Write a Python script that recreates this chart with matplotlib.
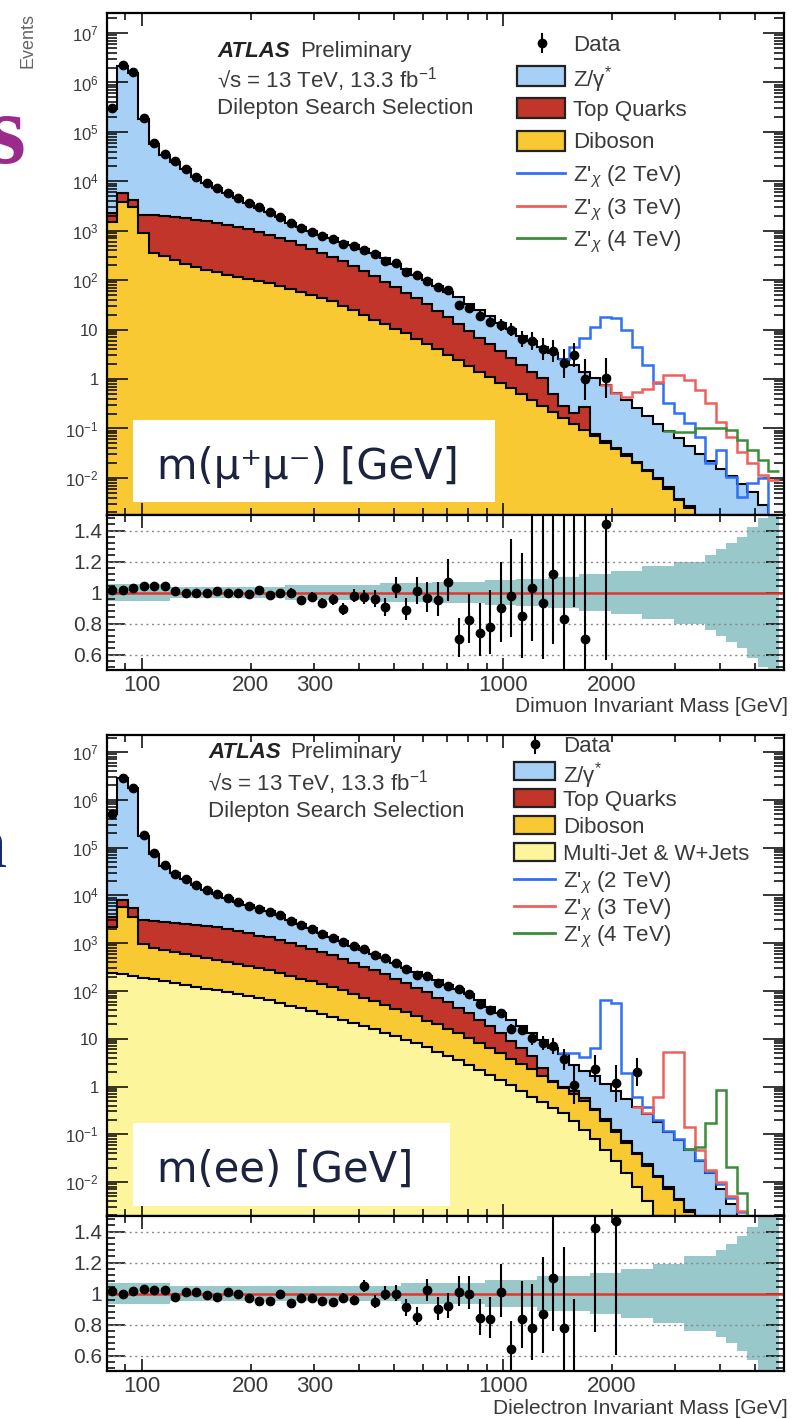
import numpy as np
import matplotlib
matplotlib.use("Agg")
import matplotlib.pyplot as plt
from matplotlib.patches import Rectangle
from matplotlib.lines import Line2D
from matplotlib.ticker import FixedLocator, FuncFormatter, NullFormatter

plt.rcParams['font.family'] = ['Liberation Sans', 'DejaVu Sans']
plt.rcParams['mathtext.fontset'] = 'custom'
plt.rcParams['mathtext.rm'] = 'Liberation Sans'
plt.rcParams['mathtext.it'] = 'Liberation Sans:italic'
plt.rcParams['mathtext.bf'] = 'Liberation Sans:bold'

W, H = 792, 1419
nan = np.nan

# 64 log-spaced mass bins [GeV]
mass_edges = np.geomspace(80, 5800, 65)

# ---------------- dimuon channel ----------------
# log10(events) at the top of each stacked layer
log_zg_mm = [5.47, 6.34, 6.20, 5.26, 4.75, 4.54, 4.40, 4.25, 4.08, 3.96,
             3.86, 3.76, 3.67, 3.57, 3.47, 3.38, 3.27, 3.16, 3.07, 2.99,
             2.92, 2.85, 2.78, 2.71, 2.63, 2.54, 2.44, 2.33, 2.22, 2.11,
             2.00, 1.89, 1.77, 1.65, 1.52, 1.40, 1.27, 1.14, 1.01, 0.88,
             0.76, 0.64, 0.52, 0.40, 0.28, 0.15, 0.03, -0.13, -0.28, -0.43,
             -0.59, -0.74, -0.90, -1.05, -1.20, -1.36, -1.51, -1.66, -1.82, -1.97,
             -2.12, -2.28, -2.55, -2.85]
log_top_mm = [3.36, 3.76, 3.62, 3.32, 3.31, 3.29, 3.27, 3.25, 3.22, 3.19,
              3.16, 3.12, 3.08, 3.03, 2.98, 2.92, 2.86, 2.79, 2.72, 2.64,
              2.56, 2.47, 2.38, 2.29, 2.19, 2.08, 1.97, 1.86, 1.75, 1.63,
              1.51, 1.38, 1.25, 1.12, 0.98, 0.84, 0.70, 0.56, 0.42, 0.28,
              0.14, 0.02, -0.30, -0.55, -0.68, -0.57, -1.12, -1.26, -1.39, -1.52,
              -1.67, -1.83, -2.00, -2.19, -2.42, -2.57, -4, -4, -4, -4,
              -4, -4, -4, -4]
log_dib_mm = [3.17, 3.58, 3.48, 2.95, 2.55, 2.48, 2.40, 2.33, 2.26, 2.21,
              2.16, 2.11, 2.06, 2.02, 1.98, 1.94, 1.88, 1.82, 1.76, 1.70,
              1.64, 1.57, 1.48, 1.39, 1.30, 1.20, 1.11, 1.02, 0.93, 0.82,
              0.71, 0.60, 0.49, 0.38, 0.27, 0.15, 0.04, -0.08, -0.19, -0.31,
              -0.43, -0.55, -0.67, -0.79, -0.91, -1.04, -1.16, -1.29, -1.42, -1.55,
              -1.70, -1.86, -2.03, -2.22, -2.45, -2.60, -4, -4, -4, -4,
              -4, -4, -4, -4]
ratio_mm = [1.016, 1.016, 1.03, 1.04, 1.045, 1.04, 1.007, 1.0, 1.0, 1.0,
            1.007, 1.0, 1.0, 0.99, 1.016, 0.985, 1.0, 1.0, 0.95, 0.97,
            0.93, 0.955, 0.895, 0.98, 0.97, 0.96, 0.905, 1.03, 0.89, 1.01,
            0.967, 0.95, 1.07, 0.70, 0.82, 0.74, 0.78, 0.90, 0.98, 0.85,
            1.03, 0.93, 1.12, 0.83, 1.6, 0.70, nan, 1.44, nan, nan,
            nan, nan, nan, nan, nan, nan, nan, nan, nan, nan,
            nan, nan, nan, nan]
band_mm = [0.055, 0.055, 0.055, 0.055, 0.055, 0.055, 0.035, 0.035, 0.035, 0.035,
           0.035, 0.035, 0.035, 0.035, 0.035, 0.035, 0.035, 0.05, 0.05, 0.05,
           0.05, 0.05, 0.05, 0.05, 0.05, 0.05, 0.06, 0.06, 0.06, 0.06,
           0.06, 0.07, 0.07, 0.07, 0.07, 0.07, 0.08, 0.08, 0.08, 0.09,
           0.09, 0.09, 0.10, 0.10, 0.10, 0.12, 0.12, 0.12, 0.14, 0.14,
           0.14, 0.17, 0.17, 0.17, 0.20, 0.20, 0.20, 0.24, 0.28, 0.32,
           0.36, 0.42, 0.48, 0.50]
# signal + background, starting at the given bin
log_zp2_mm = [0.40, 0.64, 0.83, 1.05, 1.25, 1.23, 0.99, 0.64, 0.28, -0.07,
              -0.49, -0.69, -0.89, -1.18, -1.70, -1.44, -1.99, -2.39, -2.11, -2.00, -4]
log_zp3_mm = [-0.13, -0.28, -0.37, -0.27, -0.20, -0.05, 0.08, 0.08, -0.02, -0.23,
              -0.49, -0.87, -1.18, -1.48, -1.70, -1.95, -2.05]
log_zp4_mm = [-1.05, -1.08, -1.08, -0.98, -0.98, -0.98, -1.04, -1.24, -1.44, -1.64, -1.85]
zp_first_bin_mm = [43, 47, 53]

# ---------------- dielectron channel ----------------
log_zg_ee = [5.70, 6.46, 6.24, 5.25, 4.87, 4.62, 4.46, 4.34, 4.22, 4.12,
             4.03, 3.95, 3.87, 3.80, 3.73, 3.67, 3.58, 3.49, 3.40, 3.31,
             3.22, 3.13, 3.04, 2.95, 2.86, 2.77, 2.68, 2.58, 2.49, 2.40,
             2.31, 2.22, 2.13, 2.04, 1.93, 1.80, 1.67, 1.54, 1.40, 1.26,
             1.12, 0.97, 0.81, 0.68, 0.45, 0.33, 0.22, 0.06, -0.10, -0.26,
             -0.42, -0.58, -0.75, -0.95, -1.12, -1.32, -1.55, -1.80, -2.15, -2.45,
             -2.85, -4, -4, -4]
log_top_ee = [3.55, 3.90, 3.74, 3.49, 3.47, 3.45, 3.43, 3.41, 3.39, 3.36,
              3.33, 3.29, 3.25, 3.21, 3.16, 3.12, 3.06, 3.00, 2.94, 2.88,
              2.82, 2.75, 2.67, 2.59, 2.51, 2.43, 2.35, 2.26, 2.17, 2.07,
              1.97, 1.86, 1.76, 1.65, 1.53, 1.40, 1.26, 1.12, 0.96, 0.80,
              0.63, 0.38, 0.12, -0.02, -0.10, -0.25, -0.47, -0.69, -0.92, -1.15,
              -1.39, -1.63, -1.87, -2.11, -2.35, -2.59, -2.92, -4, -4, -4,
              -4, -4, -4, -4]
log_dib_ee = [3.34, 3.76, 3.55, 2.98, 2.90, 2.86, 2.81, 2.77, 2.73, 2.68,
              2.64, 2.60, 2.56, 2.52, 2.48, 2.43, 2.37, 2.32, 2.26, 2.20,
              2.14, 2.08, 2.01, 1.94, 1.86, 1.78, 1.70, 1.63, 1.55, 1.47,
              1.38, 1.30, 1.21, 1.12, 1.02, 0.91, 0.80, 0.70, 0.58, 0.47,
              0.36, 0.23, 0.10, -0.03, -0.16, -0.30, -0.50, -0.72, -0.95, -1.18,
              -1.42, -1.66, -1.90, -2.14, -2.38, -2.62, -2.95, -4, -4, -4,
              -4, -4, -4, -4]
log_mj_ee = [2.38, 2.35, 2.31, 2.28, 2.24, 2.21, 2.17, 2.13, 2.09, 2.05,
             2.01, 1.97, 1.93, 1.89, 1.85, 1.80, 1.75, 1.69, 1.64, 1.58,
             1.52, 1.46, 1.40, 1.33, 1.27, 1.20, 1.13, 1.06, 0.98, 0.90,
             0.82, 0.73, 0.64, 0.55, 0.46, 0.35, 0.25, 0.14, 0.03, -0.09,
             -0.21, -0.32, -0.44, -0.56, -0.72, -0.90, -1.10, -1.32, -1.56, -1.82,
             -2.10, -2.40, -2.72, -3.10, -4, -4, -4, -4, -4, -4,
             -4, -4, -4, -4]
ratio_ee = [1.018, 0.995, 1.013, 1.03, 1.02, 1.02, 0.98, 1.007, 1.007, 0.99,
            0.98, 1.007, 0.995, 0.97, 0.95, 0.95, 1.0, 0.94, 0.97, 0.97,
            0.95, 0.947, 0.97, 0.96, 1.05, 0.947, 1.0, 1.0, 0.91, 0.85,
            1.02, 0.90, 0.92, 1.01, 1.0, 0.84, 0.835, 1.007, 0.64, 0.835,
            0.78, 0.87, 1.10, 0.78, 0.38, nan, 1.42, nan, 1.47, nan,
            5.3, nan, nan, nan, nan, nan, nan, nan, nan, nan,
            nan, nan, nan, nan]
band_ee = [0.07, 0.07, 0.07, 0.07, 0.07, 0.07, 0.05, 0.05, 0.05, 0.05,
           0.05, 0.05, 0.05, 0.05, 0.05, 0.05, 0.05, 0.05, 0.05, 0.05,
           0.05, 0.05, 0.05, 0.05, 0.05, 0.05, 0.05, 0.05, 0.07, 0.07,
           0.07, 0.07, 0.07, 0.07, 0.07, 0.07, 0.09, 0.09, 0.09, 0.09,
           0.09, 0.11, 0.11, 0.11, 0.11, 0.11, 0.13, 0.13, 0.13, 0.16,
           0.16, 0.16, 0.19, 0.19, 0.19, 0.24, 0.24, 0.24, 0.28, 0.32,
           0.37, 0.43, 0.50, 0.50]
log_zp2_ee = [0.70, 0.70, 0.62, 0.81, 1.81, 1.74, 0.28, -0.22, -0.43, -0.70,
              -0.93, -1.10, -1.30, -1.53, -1.78, -2.03, -2.33, -2.63, -3.0, -4, -4]
log_zp3_ee = [-0.42, -0.55, -0.22, 0.72, 0.72, -0.85, -1.33, -1.75, -2.0, -2.3,
              -2.6, -3.0, -4, -4]
log_zp4_ee = [-1.30, -1.26, -0.76, -0.07, -1.68, -2.23, -4, -4, -4]
zp_first_bin_ee = [43, 50, 55]

c_zg = '#a6d0f6'
c_top = '#c1352a'
c_dib = '#f8c932'
c_mj = '#fdf59c'
c_band = '#98c8ca'
c_zp = ['#3070f5', '#f0605a', '#3d8c3a']
c_text = '#3a3a3a'

fig = plt.figure(figsize=(W / 100, H / 100), dpi=100)


def fx(x):
    return x / W


def fy(y):
    return 1 - y / H


def panel(top, bottom):
    return fig.add_axes([fx(107), fy(bottom), (784 - 107) / W, (bottom - top) / H])


def ev(logs):
    return 10.0 ** np.asarray(logs, dtype=float)


def poisson_err(n):
    s = np.sqrt(n + 0.25)
    return s - 0.5, s + 0.5


mass_major = [100, 1000]
mass_minor = [80, 90, 200, 300, 400, 500, 600, 700, 800, 900, 2000, 3000, 4000, 5000, 6000]
mass_minor_labels = ['', '', '200', '300', '', '', '', '', '', '', '2000', '', '', '', '']


def mass_axis(ax, labels):
    ax.set_xscale('log')
    ax.set_xlim(80, 6000)
    if labels:
        ax.set_xticks(mass_major, labels=['100', '1000'])
        ax.set_xticks(mass_minor, labels=mass_minor_labels, minor=True)
    else:
        ax.set_xticks(mass_major, labels=['', ''])
        ax.set_xticks(mass_minor, labels=[''] * len(mass_minor), minor=True)
    ax.tick_params(axis='x', which='major', length=9, width=1.1)
    ax.tick_params(axis='x', which='minor', length=5, width=1.1)
    ax.tick_params(axis='x', which='both', direction='in', top=True, bottom=True,
                   labelsize=16, labelcolor=c_text, pad=3.5)
    for s in ax.spines.values():
        s.set_linewidth(1.6)


def ylab(v, pos):
    e = int(round(np.log10(v)))
    if e == 0:
        return '1'
    if e == 1:
        return '10'
    return '$10^{%d}$' % e


def draw_channel(top_px, split_px, bottom_px, ylog, layers, log_total, ratio, band,
                 signals, first_bins, xlabel):
    ax = panel(top_px, split_px)
    rax = panel(split_px, bottom_px)

    # stacked backgrounds, top layer first so the lower ones paint over it
    for logs, col in layers:
        ax.stairs(ev(logs), mass_edges, baseline=1e-6, fill=True, color=col, lw=0)
    for logs, col in layers:
        ax.stairs(ev(logs), mass_edges, baseline=None, color='black', lw=1.5)

    for logs, first, col in zip(signals, first_bins, c_zp):
        ax.stairs(ev(logs), mass_edges[first:first + len(logs) + 1],
                  baseline=None, color=col, lw=1.8, zorder=3)

    total = ev(log_total)
    r = np.asarray(ratio, dtype=float)
    n = total * r
    ok = ~np.isnan(n)
    lo, hi = poisson_err(n[ok])
    centers = np.sqrt(mass_edges[:-1] * mass_edges[1:])
    ax.errorbar(centers[ok], n[ok], yerr=[lo, hi], fmt='o', color='black',
                ms=6, elinewidth=1.5, capsize=0, zorder=5)

    mass_axis(ax, labels=False)
    ax.set_yscale('log')
    ax.set_ylim(10.0 ** ylog[0], 10.0 ** ylog[1])
    ax.yaxis.set_major_locator(FixedLocator([10.0 ** e for e in range(-2, 8)]))
    ax.yaxis.set_major_formatter(FuncFormatter(ylab))
    ax.yaxis.set_minor_locator(FixedLocator([m * 10.0 ** e for e in range(-3, 8)
                                             for m in range(2, 10)]))
    ax.yaxis.set_minor_formatter(NullFormatter())
    ax.tick_params(axis='y', which='major', length=15, width=1.1)
    ax.tick_params(axis='y', which='minor', length=7, width=1.1)
    ax.tick_params(axis='y', which='both', direction='in', left=True, right=True,
                   labelsize=12, labelcolor=c_text, pad=6)

    # ratio panel
    b = np.asarray(band, dtype=float)
    rax.stairs(1 + b, mass_edges, baseline=1 - b, fill=True, color=c_band, lw=0)
    for g in [0.6, 0.8, 1.2, 1.4]:
        rax.axhline(g, color='#8a8a8a', lw=1.0, ls=(0, (1.5, 2.5)))
    rax.axhline(1.0, color='#e3352b', lw=1.8)
    rax.errorbar(centers[ok], r[ok], yerr=[lo / total[ok], hi / total[ok]], fmt='o',
                 color='black', ms=6, elinewidth=1.5, capsize=0, zorder=5)
    mass_axis(rax, labels=True)
    rax.set_ylim(0.5, 1.5)
    rax.set_yticks([0.6, 0.8, 1.0, 1.2, 1.4], labels=['0.6', '0.8', '1', '1.2', '1.4'])
    rax.yaxis.set_minor_locator(FixedLocator(np.arange(0.52, 1.5, 0.04)))
    rax.tick_params(axis='y', which='major', length=13, width=1.1)
    rax.tick_params(axis='y', which='minor', length=6, width=1.1)
    rax.tick_params(axis='y', which='both', direction='in', left=True, right=True,
                    labelsize=15, labelcolor=c_text, pad=3.5)
    fig.text(fx(788), fy(bottom_px + 37), xlabel, ha='right', va='center',
             fontsize=15, color=c_text)
    return ax, rax


draw_channel(13, 515, 670, (-2.75, 7.405),
             [(log_zg_mm, c_zg), (log_top_mm, c_top), (log_dib_mm, c_dib)],
             log_zg_mm, ratio_mm, band_mm,
             [log_zp2_mm, log_zp3_mm, log_zp4_mm], zp_first_bin_mm,
             'Dimuon Invariant Mass [GeV]')

draw_channel(735, 1216, 1371, (-2.71, 7.356),
             [(log_zg_ee, c_zg), (log_top_ee, c_top), (log_dib_ee, c_dib), (log_mj_ee, c_mj)],
             log_zg_ee, ratio_ee, band_ee,
             [log_zp2_ee, log_zp3_ee, log_zp4_ee], zp_first_bin_ee,
             'Dielectron Invariant Mass [GeV]')


# ---------------- annotations ----------------
def text(x, y, s, **kw):
    kw.setdefault('color', c_text)
    kw.setdefault('va', 'baseline')
    fig.text(fx(x), fy(y), s, **kw)


def atlas_block(x, y0, dy, x_prelim):
    text(x, y0, 'ATLAS', fontsize=16, weight='bold', style='italic', color='#222222')
    text(x_prelim, y0, 'Preliminary', fontsize=16)
    text(x, y0 + dy, '√s = 13 TeV, 13.3 fb$^{-1}$', fontsize=16)
    text(x, y0 + 2 * dy - 5, 'Dilepton Search Selection', fontsize=16)


atlas_block(217, 57, 31, 300)
atlas_block(208, 758, 32, 290)


def legend(entries, x0, x1, y0, dy, h, xt, xm):
    for i, (kind, col, lab) in enumerate(entries):
        yc = y0 + i * dy
        if kind == 'data':
            fig.add_artist(Line2D([fx(xm), fx(xm)], [fy(yc - 9), fy(yc + 9)],
                                  transform=fig.transFigure, color='black', lw=1.5))
            fig.add_artist(Line2D([fx(xm)], [fy(yc)], transform=fig.transFigure,
                                  marker='o', ms=6, color='black'))
        elif kind == 'box':
            fig.add_artist(Rectangle((fx(x0), fy(yc + h / 2)), (x1 - x0) / W, h / H,
                                     transform=fig.transFigure, fc=col, ec='#222222', lw=1.6))
        else:
            fig.add_artist(Line2D([fx(x0), fx(x1)], [fy(yc), fy(yc)],
                                  transform=fig.transFigure, color=col, lw=2))
        text(xt, yc, lab, fontsize=16, va='center_baseline')


zp_labels = [r"Z$'_{\chi}$ (2 TeV)", r"Z$'_{\chi}$ (3 TeV)", r"Z$'_{\chi}$ (4 TeV)"]
legend([('data', None, 'Data'), ('box', c_zg, r'Z/γ$^{*}$'),
        ('box', c_top, 'Top Quarks'), ('box', c_dib, 'Diboson')]
       + [('line', c, l) for c, l in zip(c_zp, zp_labels)],
       517, 565, 43, 32.5, 20, 573, 542)
legend([('data', None, 'Data'), ('box', c_zg, r'Z/γ$^{*}$'),
        ('box', c_top, 'Top Quarks'), ('box', c_dib, 'Diboson'),
        ('box', c_mj, 'Multi-Jet & W+Jets')]
       + [('line', c, l) for c, l in zip(c_zp, zp_labels)],
       514, 555, 744, 27, 18, 563, 535)

text(28, 13, 'Events', fontsize=13, rotation=90, ha='center', va='top', color='#666666')

# white boxes with the mass labels
for (bx0, by0, bx1, by1), s, ty in [((133, 420, 495, 502), 'm(μ⁺μ⁻) [GeV]', 467),
                                    ((133, 1123, 450, 1206), 'm(ee) [GeV]', 1170)]:
    fig.add_artist(Rectangle((fx(bx0), fy(by1)), (bx1 - bx0) / W, (by1 - by0) / H,
                             transform=fig.transFigure, fc='white', ec='none', zorder=4))
    fig.text(fx(157), fy(ty), s, family='DejaVu Sans', fontsize=30, color='#1c2340',
             va='center', ha='left', zorder=5)

# slide lettering at the left margin
fig.text(fx(26), fy(163), 's', family='Liberation Serif', weight='bold', fontsize=72,
         color='#9a2a8c', ha='right', va='baseline')
fig.text(fx(6), fy(867), 'n', family='Liberation Serif', fontsize=52,
         color='#1a2b6b', ha='right', va='baseline')

fig.savefig('out.png', dpi=100)
